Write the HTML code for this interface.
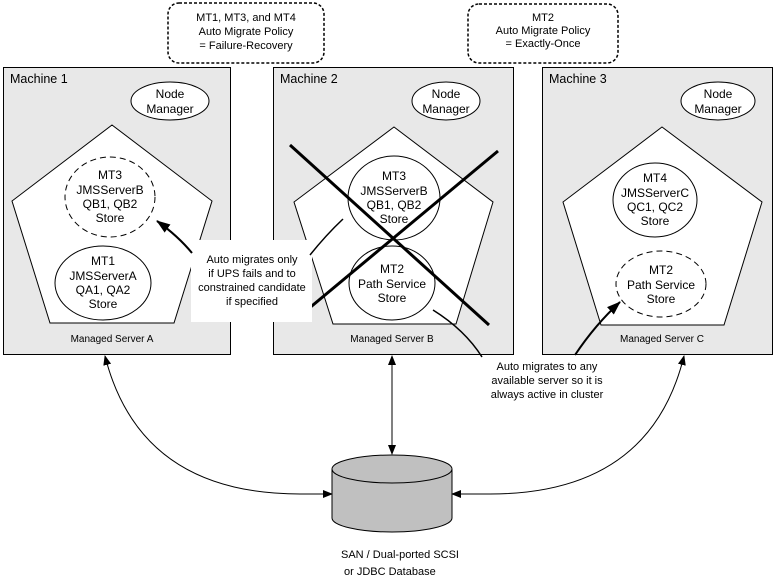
<!DOCTYPE html>
<html><head><meta charset="utf-8"><style>
html,body{margin:0;padding:0;background:#fff}
svg{display:block}
text{font-family:"Liberation Sans",Arial,sans-serif;fill:#000}
</style></head><body>
<svg width="777" height="582" viewBox="0 0 777 582" xmlns="http://www.w3.org/2000/svg">
<defs>
<marker id="ah" markerWidth="10" markerHeight="8" refX="9" refY="4" orient="auto-start-reverse" markerUnits="userSpaceOnUse">
<path d="M0,0 L10,4 L0,8 Z" fill="#000"/></marker>
<marker id="ahb" markerWidth="14" markerHeight="10" refX="13" refY="5" orient="auto" markerUnits="userSpaceOnUse">
<path d="M0,0 L14,5 L0,10 Z" fill="#000"/></marker>
</defs>

<!-- top policy boxes -->
<rect x="168" y="3" width="156" height="60" rx="11" fill="#fff" stroke="#000" stroke-width="1.5" stroke-dasharray="3,2"/>
<g font-size="11" text-anchor="middle">
<text x="246" y="21">MT1, MT3, and MT4</text>
<text x="246" y="35">Auto Migrate Policy</text>
<text x="246" y="49">= Failure-Recovery</text>
</g>
<rect x="468" y="4" width="150" height="59" rx="11" fill="#fff" stroke="#000" stroke-width="1.5" stroke-dasharray="3,2"/>
<g font-size="11" text-anchor="middle">
<text x="543" y="21">MT2</text>
<text x="543" y="34">Auto Migrate Policy</text>
<text x="543" y="47">= Exactly-Once</text>
</g>

<!-- machines -->
<rect x="3.5" y="67.5" width="227" height="287" fill="#e8e8e8" stroke="#000"/>
<rect x="273.5" y="67.5" width="240" height="287" fill="#e8e8e8" stroke="#000"/>
<rect x="542.5" y="67.5" width="230" height="287" fill="#e8e8e8" stroke="#000"/>
<g font-size="12.5">
<text x="10" y="83">Machine 1</text>
<text x="280" y="83">Machine 2</text>
<text x="549" y="83">Machine 3</text>
</g>

<!-- node managers -->
<g fill="#fff" stroke="#000">
<ellipse cx="170" cy="101" rx="39" ry="19"/>
<ellipse cx="446" cy="101" rx="34" ry="19"/>
<ellipse cx="718" cy="101" rx="37" ry="19"/>
</g>
<g font-size="12" text-anchor="middle">
<text x="170" y="98">Node</text><text x="170" y="113">Manager</text>
<text x="446" y="98">Node</text><text x="446" y="113">Manager</text>
<text x="718" y="98">Node</text><text x="718" y="113">Manager</text>
</g>

<!-- pentagons -->
<g fill="#fff" stroke="#000">
<polygon points="112,125 212,201 174,323 50,323 12,201"/>
<polygon points="394,127 493,202 456,324 333,324 294,202"/>
<polygon points="662,127 762,202 724,325 601,325 563,202"/>
</g>
<g font-size="10" text-anchor="middle">
<text x="112" y="342">Managed Server A</text>
<text x="392" y="342">Managed Server B</text>
<text x="662" y="342">Managed Server C</text>
</g>

<!-- inner ellipses -->
<ellipse cx="110" cy="197" rx="45" ry="40" fill="#fff" stroke="#000" stroke-dasharray="6,4"/>
<ellipse cx="103" cy="283" rx="48" ry="37" fill="#fff" stroke="#000"/>
<ellipse cx="394" cy="198" rx="46" ry="42" fill="#fff" stroke="#000"/>
<ellipse cx="392" cy="283" rx="43" ry="37" fill="#fff" stroke="#000"/>
<ellipse cx="655" cy="200" rx="42" ry="37" fill="#fff" stroke="#000"/>
<ellipse cx="661" cy="284" rx="45" ry="33" fill="#fff" stroke="#000" stroke-dasharray="6,4"/>

<g font-size="12" text-anchor="middle">
<text x="110" y="179">MT3</text><text x="110" y="194">JMSServerB</text><text x="110" y="208">QB1, QB2</text><text x="110" y="222">Store</text>
<text x="103" y="265">MT1</text><text x="103" y="280">JMSServerA</text><text x="103" y="294">QA1, QA2</text><text x="103" y="308">Store</text>
<text x="394" y="180">MT3</text><text x="394" y="195">JMSServerB</text><text x="394" y="209">QB1, QB2</text><text x="394" y="223">Store</text>
<text x="392" y="273">MT2</text><text x="392" y="288">Path Service</text><text x="392" y="302">Store</text>
<text x="655" y="182">MT4</text><text x="655" y="197">JMSServerC</text><text x="655" y="211">QC1, QC2</text><text x="655" y="225">Store</text>
<text x="661" y="274">MT2</text><text x="661" y="289">Path Service</text><text x="661" y="303">Store</text>
</g>

<!-- X lines -->
<line x1="290" y1="145" x2="489" y2="325" stroke="#000" stroke-width="3"/>
<line x1="301" y1="315" x2="498" y2="151" stroke="#000" stroke-width="3"/>

<!-- text box -->
<rect x="191" y="240" width="121" height="82" fill="#fff"/>
<g font-size="11" text-anchor="middle">
<text x="252" y="263">Auto migrates only</text>
<text x="252" y="277">if UPS fails and to</text>
<text x="252" y="291">constrained candidate</text>
<text x="252" y="305">if specified</text>
</g>
<path d="M192,253 Q178,236 157,221" fill="none" stroke="#000" stroke-width="2" marker-end="url(#ahb)"/>
<path d="M310,255 Q326,235 343,219" fill="none" stroke="#000" stroke-width="1.5"/>

<!-- exactly-once arrows -->
<path d="M433,310 Q465,330 482,357" fill="none" stroke="#000" stroke-width="1.5"/>
<path d="M575,355 Q595,325 620,302" fill="none" stroke="#000" stroke-width="2" marker-end="url(#ahb)"/>
<g font-size="11" text-anchor="middle">
<text x="547" y="370">Auto migrates to any</text>
<text x="547" y="384">available server so it is</text>
<text x="547" y="398">always active in cluster</text>
</g>

<!-- storage arrows -->
<line x1="392" y1="356" x2="392" y2="454" stroke="#000" marker-start="url(#ah)" marker-end="url(#ah)"/>
<path d="M105,356 Q140,494 300,494 L332,494" fill="none" stroke="#000" marker-start="url(#ah)" marker-end="url(#ah)"/>
<path d="M684,356 Q650,494 490,494 L452,494" fill="none" stroke="#000" marker-start="url(#ah)" marker-end="url(#ah)"/>

<!-- cylinder -->
<path d="M332,469 L332,518 A60,14 0 0 0 452,518 L452,469" fill="#c0c0c0" stroke="#000"/>
<ellipse cx="392" cy="469" rx="60" ry="14" fill="#c0c0c0" stroke="#000"/>
<g font-size="11">
<text x="341" y="558">SAN / Dual-ported SCSI</text>
<text x="344" y="575">or JDBC Database</text>
</g>
</svg>
</body></html>
